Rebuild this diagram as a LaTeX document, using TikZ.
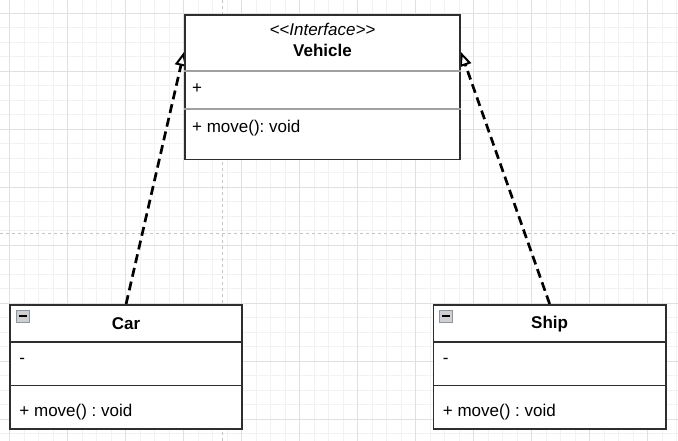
\documentclass[tikz,border=0pt]{standalone}
\usepackage{fontspec}
\setmainfont{Liberation Sans}
\usetikzlibrary{arrows.meta}
\pgfdeclarelayer{back}
\pgfsetlayers{back,main}
\definecolor{gridfine}{HTML}{F2F2F2}
\definecolor{gridbold}{HTML}{E0E0E0}
\definecolor{pagegray}{HTML}{C4C4C4}
\definecolor{boxline}{HTML}{2E2E2E}
\definecolor{splitgray}{HTML}{A0A0A0}
\definecolor{iconedge}{HTML}{8C96A3}
\definecolor{iconfill}{HTML}{CFCFCF}
\tikzset{
  classbox/.style={draw=boxline, line width=1.6pt, fill=white, anchor=north west, inner sep=0pt},
  txt/.style={font=\fontsize{17}{20}\selectfont, inner sep=0pt},
  lefttxt/.style={txt, anchor=west},
  splitline/.style={draw=boxline, line width=1.6pt},
  softsplit/.style={draw=splitgray, line width=1.8pt},
  minbox/.style={draw=iconedge, fill=iconfill, line width=1pt, minimum size=12.5pt, inner sep=0pt, anchor=north west},
  realization/.style={draw=black, line width=2.7pt, dash pattern=on 9pt off 5pt,
    -{Triangle[length=14pt, width=12pt, fill=white, line width=2pt]}},
  finegrid/.style={draw=gridfine, line width=1pt},
  boldgrid/.style={draw=gridbold, line width=1pt},
  pageedge/.style={draw=pagegray, line width=1pt, dash pattern=on 3pt off 3pt}
}
\begin{document}
\frenchspacing
\begin{tikzpicture}[x=1pt, y=-1pt]
  \useasboundingbox (0,0) rectangle (678,441);
  \begin{pgfonlayer}{back}
    \fill[white] (0,0) rectangle (678,441);
    \foreach \i in {0,...,46} \draw[finegrid] ({9.5+14.5*\i},0) -- ++(0,441);
    \foreach \i in {0,...,29} \draw[finegrid] (0,{13.3+14.5*\i}) -- ++(678,0);
    \foreach \i in {0,...,11} \draw[boldgrid] ({9.5+58*\i},0) -- ++(0,441);
    \foreach \i in {0,...,7} \draw[boldgrid] (0,{13.3+58*\i}) -- ++(678,0);
    \draw[pageedge] (222,0) -- (222,441);
    \draw[pageedge] (0,234) -- (678,234);
  \end{pgfonlayer}

  \node[classbox, minimum width=275.3pt, minimum height=144.7pt] (vehicle) at (184,14) {};
  \draw[softsplit] ([yshift=-56.7pt]vehicle.north west) -- ([yshift=-56.7pt]vehicle.north east);
  \draw[softsplit] ([yshift=-95.3pt]vehicle.north west) -- ([yshift=-95.3pt]vehicle.north east);
  \node[txt] (vstereo) at ([yshift=-15.3pt]vehicle.north) {\itshape\textless\kern0pt\textless Interface\textgreater\kern0pt\textgreater};
  \node[txt] (vname) at ([yshift=-36pt]vehicle.north) {\bfseries Vehicle};
  \node[lefttxt] (vattr) at ([shift={(8,75)}]vehicle.north west) {+};
  \node[lefttxt] (vops) at ([shift={(8,114)}]vehicle.north west) {+ move(): void};

  \node[classbox, minimum width=232pt, minimum height=124.3pt] (car) at (9.3,304) {};
  \draw[splitline] ([yshift=-37.7pt]car.north west) -- ([yshift=-37.7pt]car.north east);
  \draw[splitline] ([yshift=-81.3pt]car.north west) -- ([yshift=-81.3pt]car.north east);
  \node[minbox] (caricon) at ([shift={(6.7,5.7)}]car.north west) {};
  \draw[line width=2pt] ([xshift=2.5pt]caricon.west) -- ([xshift=-2.5pt]caricon.east);
  \node[txt] (cname) at ([yshift=-20pt]car.north) {\bfseries Car};
  \node[lefttxt] (cattr) at ([shift={(10,57)}]car.north west) {-};
  \node[lefttxt] (cops) at ([shift={(10,107.7)}]car.north west) {+ move() : void};

  \node[classbox, minimum width=232.3pt, minimum height=124.3pt] (ship) at (432.7,304) {};
  \draw[splitline] ([yshift=-37.7pt]ship.north west) -- ([yshift=-37.7pt]ship.north east);
  \draw[splitline] ([yshift=-81.3pt]ship.north west) -- ([yshift=-81.3pt]ship.north east);
  \node[minbox] (shipicon) at ([shift={(6.7,5.7)}]ship.north west) {};
  \draw[line width=2pt] ([xshift=2.5pt]shipicon.west) -- ([xshift=-2.5pt]shipicon.east);
  \node[txt] (sname) at ([yshift=-20pt]ship.north) {\bfseries Ship};
  \node[lefttxt] (sattr) at ([shift={(10,57)}]ship.north west) {-};
  \node[lefttxt] (sops) at ([shift={(10,107.7)}]ship.north west) {+ move() : void};

  \coordinate (vleft) at ([yshift=-38pt]vehicle.north west);
  \coordinate (vright) at ([yshift=-38pt]vehicle.north east);
  \begin{pgfonlayer}{back}
    \draw[realization] (car.north) -- (vleft);
    \draw[realization] (ship.north) -- (vright);
  \end{pgfonlayer}
\end{tikzpicture}
\end{document}
